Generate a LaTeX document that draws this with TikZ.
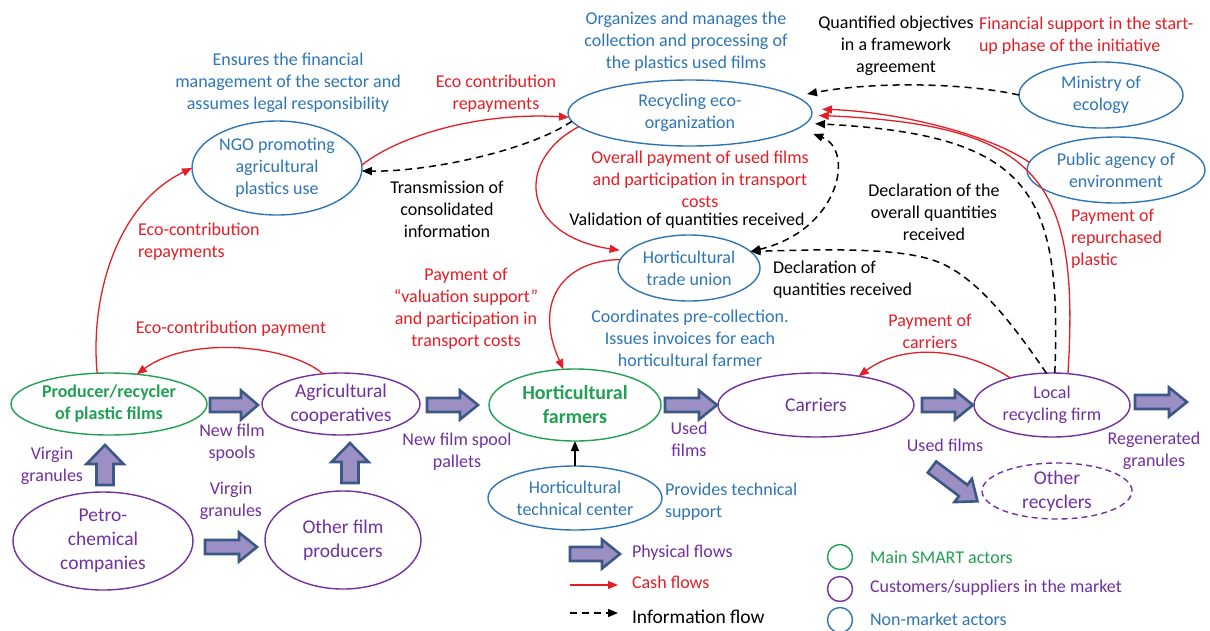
\documentclass[tikz,border=0pt]{standalone}
\usepackage{fontspec}
\setmainfont{Carlito}
\usetikzlibrary{arrows.meta,shapes.geometric}
\definecolor{cblue}{RGB}{46,117,182}
\definecolor{cred}{RGB}{228,30,38}
\definecolor{cgreen}{RGB}{32,160,82}
\definecolor{cpurple}{RGB}{112,48,160}
\definecolor{afill}{RGB}{155,143,196}
\definecolor{aborder}{RGB}{60,88,135}
\newcommand\fsA{\fontsize{18}{22}\selectfont}
\newcommand\fsB{\fontsize{19.5}{24}\selectfont}
\newcommand\fsC{\fontsize{20}{24}\selectfont\bfseries}
% tail x, tail y, angle, length, shaft half-width, head half-width, head length
\newcommand\blkarrow[7]{\draw[blockarrow,shift={(#1,#2)},rotate=#3] (0,-#5) -- ({#4-#7},-#5) -- ({#4-#7},-#6) -- (#4,0) -- ({#4-#7},#6) -- ({#4-#7},#5) -- (0,#5) -- cycle;}
\begin{document}
\begin{tikzpicture}[x=1pt,y=-1pt,
  ell/.style={ellipse, inner sep=-4pt, outer sep=0pt, line width=1.4pt, align=center},
  ellB/.style={ell, draw=cblue, text=cblue, font=\fsA},
  ellG/.style={ell, draw=cgreen, text=cgreen, font=\fsC},
  ellP/.style={ell, draw=cpurple, text=cpurple, font=\fsB},
  txt/.style={inner sep=0pt, outer sep=0pt, align=center, font=\fsA},
  tB/.style={txt, text=cblue},
  tR/.style={txt, text=cred},
  tK/.style={txt, text=black},
  tP/.style={txt, text=cpurple},
  tG/.style={txt, text=cgreen},
  cash/.style={draw=cred, line width=1.3pt, -{Triangle[length=10pt,width=8pt]}},
  info/.style={draw=black, line width=1.5pt, dash pattern=on 7pt off 5pt, -{Triangle[length=10pt,width=8pt]}},
  solidarr/.style={draw=black, line width=1.5pt, -{Triangle[length=10pt,width=8pt]}},
  blockarrow/.style={draw=aborder, fill=afill, line width=2.6pt, line join=miter},
  legc/.style={circle, minimum size=25pt, inner sep=0pt, outer sep=0pt, line width=1.4pt}
]
\useasboundingbox (0,0) rectangle (1210,630);

% ---------- actors ----------
\node[ellB, minimum width=170, minimum height=94] (ngo) at (277,168) {NGO promoting\\agricultural\\plastics use};
\node[ellB, minimum width=244, minimum height=66] (reco) at (690,113) {Recycling eco-\\organization};
\node[ellB, minimum width=164, minimum height=66] (min) at (1101,95) {Ministry of\\ecology};
\node[ellB, minimum width=178, minimum height=66] (agency) at (1116,170) {Public agency of\\environment};
\node[ellB, minimum width=142, minimum height=66] (tu) at (689,268) {Horticultural\\trade union};
\node[ellG, font=\fontsize{18}{22}\selectfont\bfseries, minimum width=196, minimum height=62] (prod) at (109,404) {Producer/recycler\\of plastic films};
\node[ellP, minimum width=158, minimum height=62] (agri) at (341,404) {Agricultural\\cooperatives};
\node[ellG, minimum width=172, minimum height=72] (farm) at (575,405) {Horticultural\\farmers};
\node[ellP, minimum width=196, minimum height=64] (carriers) at (816,405) {Carriers};
\node[ellP, font=\fsA, minimum width=156, minimum height=64] (local) at (1052,405) {Local\\recycling firm};
\node[ellP, dashed, dash pattern=on 6pt off 4pt, minimum width=150, minimum height=56] (otherrec) at (1057,491) {Other\\recyclers};
\node[ellP, minimum width=180, minimum height=98] (petro) at (103,541) {Petro-\\chemical\\companies};
\node[ellP, minimum width=156, minimum height=98] (ofp) at (343,540) {Other film\\producers};
\node[ellB, minimum width=174, minimum height=64] (tech) at (575,498) {Horticultural\\technical center};

% ---------- labels ----------
\node[tB] (l1) at (288,83) {Ensures the financial\\management of the sector and\\assumes legal responsibility};
\node[tB] (l2) at (686,42) {Organizes and manages the\\collection and processing of\\the plastics used films};
\node[tK] (l3) at (896,46) {Quantified objectives\\in a framework\\agreement};
\node[tR, align=left, anchor=west] (l4) at (979,36) {Financial support in the start-\\up phase of the initiative};
\node[tR] (l5) at (496,94) {Eco contribution\\repayments};
\node[tR] (l6) at (700,179) {Overall payment of used films\\and participation in transport\\costs};
\node[tK] (l7) at (447,209) {Transmission of\\consolidated\\information};
\node[tK] (l8) at (687,221) {Validation of quantities received};
\node[tK] (l9) at (934,212) {Declaration of the\\overall quantities\\received};
\node[tR, align=left, anchor=west] (l10) at (1071,239) {Payment of\\repurchased\\plastic};
\node[tK, align=left, anchor=west] (l11) at (773,280) {Declaration of\\quantities received};
\node[tR, align=left, anchor=west] (l12) at (138,242) {Eco-contribution\\repayments};
\node[tR] (l13) at (466,309) {Payment of\\“valuation support”\\and participation in\\transport costs};
\node[tR] (l14) at (231,329) {Eco-contribution payment};
\node[tB] (l15) at (690,338) {Coordinates pre-collection.\\Issues invoices for each\\horticultural farmer};
\node[tR] (l16) at (930,331) {Payment of\\carriers};
\node[tP] (l17) at (232,443) {New film\\spools};
\node[tP] (l18) at (52,466) {Virgin\\granules};
\node[tP] (l19) at (231,501) {Virgin\\granules};
\node[tP] (l20) at (457,452) {New film spool\\pallets};
\node[tP] (l21) at (689,439) {Used\\films};
\node[tP] (l22) at (945,445) {Used films};
\node[tP] (l23) at (1154,451) {Regenerated\\granules};
\node[tB, align=left, anchor=west] (l24) at (665,502) {Provides technical\\support};

% ---------- legend ----------
\node[tP, anchor=west] (lg1) at (632,553) {Physical flows};
\node[tR, anchor=west] (lg2) at (632,582) {Cash flows};
\node[tK, font=\fsB, anchor=west] (lg3) at (632,617) {Information flow};
\coordinate (lca) at (570,585);
\coordinate (lcb) at (618,585);
\coordinate (lia) at (570,613);
\coordinate (lib) at (618,613);
\draw[cash] (lca) -- (lcb);
\draw[info] (lia) -- (lib);
\node[legc, draw=cgreen] (cg) at (840,557) {};
\node[legc, draw=cpurple] (cp) at (840,589) {};
\node[legc, draw=cblue] (cb) at (840,620) {};
\node[tG, anchor=west] (lg4) at (870,557) {Main SMART actors};
\node[tP, anchor=west] (lg5) at (870,588) {Customers/suppliers in the market};
\node[tB, anchor=west] (lg6) at (870,619) {Non-market actors};

% ---------- physical flows ----------
\blkarrow{210}{405}{0}{48}{7}{14.5}{17}
\blkarrow{427}{405}{0}{51}{7}{14.5}{18}
\blkarrow{665}{405}{0}{52}{7}{14.5}{18}
\blkarrow{922}{405}{0}{51}{7}{14.5}{18}
\blkarrow{1135}{402}{0}{52}{7}{14.5}{18}
\blkarrow{205}{547}{0}{52}{7}{14.5}{18}
\blkarrow{105}{485}{90}{40}{8.5}{18.5}{19}
\blkarrow{350}{483}{90}{40}{8.5}{18.5}{19}
\blkarrow{932}{467}{-37}{57}{7}{14.5}{18}
\blkarrow{570}{554}{0}{50}{7}{14.5}{18}

% ---------- cash and information flows ----------
\draw[cash] (prod.111) .. controls (90,300) and (115,205) .. (ngo.180);
\draw[cash] (agri.121) .. controls (290,345) and (190,335) .. (prod.47);
\draw[cash] (ngo.2) .. controls (400,135) and (480,112) .. (reco.182);
\draw[info] (reco.184) .. controls (530,150) and (430,172) .. (ngo.-2);
\draw[cash, shorten >=8pt] (reco.187) .. controls (515,160) and (520,235) .. (tu.165);
\draw[cash] (tu.173) .. controls (565,260) and (532,300) .. (farm.108);
\draw[solidarr] (tech.north) -- (farm.south);
\draw[info, shorten >=12pt] (min.180) .. controls (960,82) and (870,82) .. (reco.9);
\draw[cash, shorten >=11pt] (agency.175) .. controls (990,135) and (900,112) .. (reco.2);
\draw[cash, shorten >=7pt] (local.63) .. controls (1080,180) and (1040,125) .. (reco.-1);
\draw[info, shorten >=9pt] (local.85) .. controls (1062,190) and (1030,135) .. (reco.-5);
\draw[info, {Triangle[length=10pt,width=8pt]}-{Triangle[length=10pt,width=8pt]}, shorten >=16pt] (tu.15) .. controls (840,230) and (855,150) .. (reco.-8);
\draw[info] (local.100) .. controls (1020,335) and (985,285) .. (945,265) .. controls (915,250) and (860,248) .. (tu.15);
\draw[cash] (local.147) .. controls (960,345) and (900,345) .. (carriers.34);
\end{tikzpicture}
\end{document}
